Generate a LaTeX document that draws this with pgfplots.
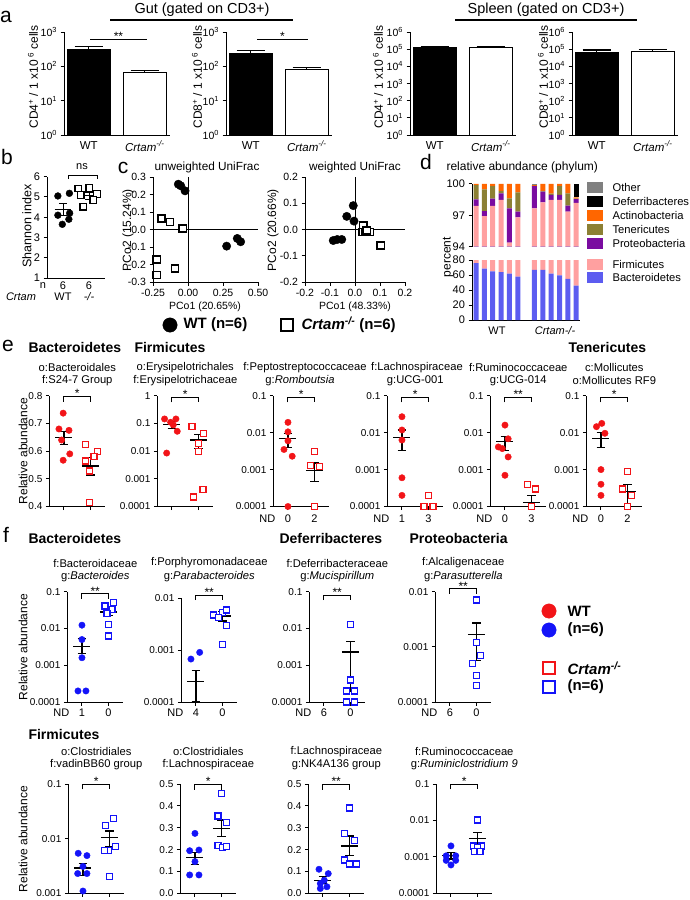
\documentclass[border=0pt]{standalone}
\usepackage{pgfplots}
\pgfplotsset{compat=1.18}
\usepackage{pgfplotstable}
\usepackage{fontspec}
\setmainfont{Liberation Sans}

\definecolor{wtred}{RGB}{242,20,24}
\definecolor{koblue}{RGB}{20,20,248}
\definecolor{cBac}{RGB}{92,92,240}
\definecolor{cFir}{RGB}{255,160,160}
\definecolor{cPro}{RGB}{122,12,160}
\definecolor{cTen}{RGB}{140,128,52}
\definecolor{cAct}{RGB}{255,102,0}
\definecolor{cDef}{RGB}{0,0,0}
\definecolor{cOth}{RGB}{128,128,128}

\newcommand{\tk}{\fontsize{10}{12}\selectfont}
\newcommand{\tkb}{\fontsize{11}{13}\selectfont}
\newcommand{\sbt}{\fontsize{11.2}{13.4}\selectfont}
\newcommand{\grp}{\bfseries\fontsize{14}{16.8}\selectfont}
\newcommand{\ylb}{\fontsize{12}{14.4}\selectfont}
\newcommand{\pl}{\fontsize{21}{25}\selectfont}
\newcommand{\ndf}{\fontsize{11}{13}\selectfont}
\newcommand{\stf}{\fontsize{12}{14}\selectfont}
\newcommand{\lgf}{\bfseries\fontsize{15}{18}\selectfont}

\pgfplotstableread{
x B F P T A D O
1 76 21.9 0.63 1.37 0.10 0 0
2 68.5 28.43 0.48 2.08 0.51 0 0
3 65 32.9 0.7 1.2 0.2 0 0
4 64 34.47 0.63 0.23 0.67 0 0
5 62 32.4 3.27 0.96 1.37 0 0
6 58 38.8 0.55 1.85 0.8 0 0
8 67 30.67 2.13 0.02 0.08 0 0.1
9 67 31.24 1.03 0.08 0.65 0 0
10 62 36.47 0.48 0.12 0.93 0 0
11 59.5 38.97 0.48 0.85 0.2 0 0
12 55 42.35 0.57 1.18 0.9 0 0
13 46 52.2 0.35 0.05 0.12 1.28 0
}\phyla

\pgfplotsset{
 sBase/.style={scale only axis, clip=false, anchor=south west,
   axis x line*=bottom, axis y line*=left, axis line style={line width=1pt,-},
   tick align=outside, major tick length=3.5pt,
   tick style={black, line width=1pt},
   xminorticks=false, yminorticks=false,
   tick label style={font=\tk}},
 sDot/.style={sBase, width=55.6pt, xmin=0.45, xmax=2.55, xtick={1,2}, xticklabels={}},
 sL3/.style={ymin=0.0001, ymax=0.1, ytick={0.0001,0.001,0.01,0.1}, yticklabels={0.0001,0.001,0.01,0.1}},
 sL2/.style={ymin=0.0001, ymax=0.01, ytick={0.0001,0.001,0.01}, yticklabels={0.0001,0.001,0.01}},
 sLin/.style={ymin=0, ymax=0.5, ytick={0,0.1,0.2,0.3,0.4,0.5}, yticklabels={0.0,0.1,0.2,0.3,0.4,0.5}},
 sWt/.style={only marks, mark=*, mark size=3.2pt, mark options={draw=#1, fill=#1}, forget plot},
 sKo/.style={only marks, mark=square*, mark size=3pt, mark options={draw=#1, fill=white, line width=1.25pt}, forget plot},
 sLine/.style={black, line width=1.2pt, mark=none, forget plot},
 sBarA/.style={sBase, width=106pt, height=103pt, xmin=0.56, xmax=2.45, ymin=1, xtick=\empty,
   tick label style={font=\fontsize{10.5}{12}\selectfont}},
 sBarD/.style={sBase, width=108pt, xmin=0.52, xmax=13.45, xtick=\empty, bar width=5pt,
   clip=true, tick label style={font=\tkb}},
}

\newcommand{\mA}[3]{%
 \addplot[sLine] coordinates {(0.68,#1) (1.32,#1)};
 \addplot[sLine] coordinates {(1,#2) (1,#3)};
 \addplot[sLine] coordinates {(0.84,#2) (1.16,#2)};
 \addplot[sLine] coordinates {(0.84,#3) (1.16,#3)};}
\newcommand{\mB}[3]{%
 \addplot[sLine] coordinates {(1.68,#1) (2.32,#1)};
 \addplot[sLine] coordinates {(2,#2) (2,#3)};
 \addplot[sLine] coordinates {(1.84,#2) (2.16,#2)};
 \addplot[sLine] coordinates {(1.84,#3) (2.16,#3)};}
\newcommand{\brk}[2]{%
 \draw[line width=1pt] ([yshift=-5pt]axis cs:1,#1) -- (axis cs:1,#1) -- (axis cs:2,#1) -- ([yshift=-5pt]axis cs:2,#1);
 \node[font=\stf, anchor=south, inner sep=0pt, yshift=-1.5pt] at (axis cs:1.5,#1) {#2};}

\begin{document}
\begin{tikzpicture}
\useasboundingbox (0pt,0pt) rectangle (689pt,-900pt);

% ================= panel a =================
\begin{axis}[sBarA, ymode=log, at={(64pt,-135pt)}, ymax=1000, ytick={1,10,100,1000},
  yticklabels={10\textsuperscript{0},10\textsuperscript{1},10\textsuperscript{2},10\textsuperscript{3}}]
\addplot[ybar, bar width=43pt, bar shift=0pt, fill=black, draw=black, forget plot] coordinates {(1,316)};
\addplot[ybar, bar width=43pt, bar shift=0pt, fill=white, draw=black, line width=1pt, forget plot] coordinates {(2,68)};
\addplot[sLine] coordinates {(1,316) (1,370)};
\addplot[sLine] coordinates {(0.75,370) (1.25,370)};
\addplot[sLine] coordinates {(2,68) (2,75)};
\addplot[sLine] coordinates {(1.75,75) (2.25,75)};
\end{axis}
\begin{axis}[sBarA, ymode=log, at={(226pt,-135pt)}, ymax=1000, ytick={1,10,100,1000},
  yticklabels={10\textsuperscript{0},10\textsuperscript{1},10\textsuperscript{2},10\textsuperscript{3}}]
\addplot[ybar, bar width=43pt, bar shift=0pt, fill=black, draw=black, forget plot] coordinates {(1,240)};
\addplot[ybar, bar width=43pt, bar shift=0pt, fill=white, draw=black, line width=1pt, forget plot] coordinates {(2,83)};
\addplot[sLine] coordinates {(1,240) (1,285)};
\addplot[sLine] coordinates {(0.75,285) (1.25,285)};
\addplot[sLine] coordinates {(2,83) (2,91)};
\addplot[sLine] coordinates {(1.75,91) (2.25,91)};
\end{axis}
\begin{axis}[sBarA, ymode=log, at={(410pt,-135pt)}, ymax=1000000, ytick={1,10,100,1000,10000,100000,1000000},
  yticklabels={10\textsuperscript{0},10\textsuperscript{1},10\textsuperscript{2},10\textsuperscript{3},10\textsuperscript{4},10\textsuperscript{5},10\textsuperscript{6}}]
\addplot[ybar, bar width=43pt, bar shift=0pt, fill=black, draw=black, forget plot] coordinates {(1,130000)};
\addplot[ybar, bar width=43pt, bar shift=0pt, fill=white, draw=black, line width=1pt, forget plot] coordinates {(2,125000)};
\addplot[sLine] coordinates {(1,130000) (1,150000)};
\addplot[sLine] coordinates {(0.75,150000) (1.25,150000)};
\addplot[sLine] coordinates {(2,125000) (2,140000)};
\addplot[sLine] coordinates {(1.75,140000) (2.25,140000)};
\end{axis}
\begin{axis}[sBarA, ymode=log, at={(572pt,-135pt)}, ymax=1000000, ytick={1,10,100,1000,10000,100000,1000000},
  yticklabels={10\textsuperscript{0},10\textsuperscript{1},10\textsuperscript{2},10\textsuperscript{3},10\textsuperscript{4},10\textsuperscript{5},10\textsuperscript{6}}]
\addplot[ybar, bar width=43pt, bar shift=0pt, fill=black, draw=black, forget plot] coordinates {(1,71000)};
\addplot[ybar, bar width=43pt, bar shift=0pt, fill=white, draw=black, line width=1pt, forget plot] coordinates {(2,71000)};
\addplot[sLine] coordinates {(1,71000) (1,89000)};
\addplot[sLine] coordinates {(0.75,89000) (1.25,89000)};
\addplot[sLine] coordinates {(2,71000) (2,95000)};
\addplot[sLine] coordinates {(1.75,95000) (2.25,95000)};
\end{axis}

% ================= panel b =================
\begin{axis}[sBase, at={(47pt,-278pt)}, width=58pt, height=101.3pt, xmin=0.385, xmax=2.6,
  ymin=1, ymax=6, ytick={1,2,3,4,5,6}, yticklabels={1,2,3,4,5,6}, xtick=\empty, tick label style={font=\tkb}]
\addplot[only marks, mark=*, mark size=3.4pt, black, forget plot] coordinates {(0.8,5.05) (1.24,5.18) (0.8,4.1) (1.25,4.2) (0.97,3.65) (1.22,3.9)};
\addplot[only marks, mark=square*, mark size=3.3pt, mark options={draw=black, fill=white, line width=1.3pt}, forget plot] coordinates {(1.58,5.42) (2.0,5.45) (1.67,5.1) (2.3,5.15) (2.15,4.85) (1.77,4.52)};
\mA{4.38}{4.1}{4.69}
\mB{5.07}{4.88}{5.25}
\end{axis}

% ================= panel c =================
\begin{axis}[sBase, at={(153pt,-282pt)}, width=105pt, height=105pt, xmin=-0.25, xmax=0.5, ymin=-0.3, ymax=0.3,
  xtick={-0.25,0,0.25,0.5}, xticklabels={-0.25,0.00,0.25,0.50},
  ytick={-0.3,-0.2,-0.1,0,0.1,0.2,0.3}, yticklabels={-0.3,-0.2,-0.1,0.0,0.1,0.2,0.3},
  tick label style={font=\fontsize{10.5}{12}\selectfont}]
\addplot[black, line width=1pt, forget plot] coordinates {(0,-0.3) (0,0.3)};
\addplot[black, line width=1pt, forget plot] coordinates {(-0.25,0) (0.5,0)};
\addplot[only marks, mark=*, mark size=4.2pt, black, forget plot] coordinates {(-0.069,0.259) (-0.052,0.25) (-0.021,0.221) (0.276,-0.095) (0.352,-0.051) (0.376,-0.07)};
\addplot[only marks, mark=square*, mark size=3.6pt, mark options={draw=black, fill=white, line width=1.4pt}, forget plot] coordinates {(-0.19,0.063) (-0.129,0.044) (-0.038,0.006) (-0.224,-0.171) (-0.224,-0.261) (-0.093,-0.223)};
\end{axis}
\begin{axis}[sBase, at={(305pt,-282pt)}, width=100pt, height=105pt, xmin=-0.2, xmax=0.2, ymin=-0.2, ymax=0.2,
  xtick={-0.2,-0.1,0,0.1,0.2}, xticklabels={-0.2,-0.1,0.0,0.1,0.2},
  ytick={-0.2,-0.1,0,0.1,0.2}, yticklabels={-0.2,-0.1,0.0,0.1,0.2},
  tick label style={font=\fontsize{10.5}{12}\selectfont}]
\addplot[black, line width=1pt, forget plot] coordinates {(0,-0.2) (0,0.2)};
\addplot[black, line width=1pt, forget plot] coordinates {(-0.2,0) (0.2,0)};
\addplot[only marks, mark=*, mark size=4.2pt, black, forget plot] coordinates {(-0.007,0.091) (-0.033,0.05) (-0.004,0.032) (-0.087,-0.042) (-0.071,-0.038) (-0.053,-0.038)};
\addplot[only marks, mark=square*, mark size=3.6pt, mark options={draw=black, fill=white, line width=1.4pt}, forget plot] coordinates {(0.033,0.015) (0.03,-0.01) (0.04,-0.01) (0.06,-0.01) (0.047,-0.004) (0.103,-0.061)};
\end{axis}

% ================= panel d =================
\begin{axis}[sBarD, ybar stacked, at={(472pt,-246.7pt)}, height=62.7pt, ymin=94, ymax=100, ytick={94,97,100}, yticklabels={94,97,100}, axis x line=none]
\addplot[fill=cBac, draw=none] table[x=x, y=B] {\phyla};
\addplot[fill=cFir, draw=none] table[x=x, y=F] {\phyla};
\addplot[fill=cPro, draw=none] table[x=x, y=P] {\phyla};
\addplot[fill=cTen, draw=none] table[x=x, y=T] {\phyla};
\addplot[fill=cAct, draw=none] table[x=x, y=A] {\phyla};
\addplot[fill=cDef, draw=none] table[x=x, y=D] {\phyla};
\addplot[fill=cOth, draw=none] table[x=x, y=O] {\phyla};
\end{axis}
\begin{axis}[sBarD, ybar stacked, at={(472pt,-320pt)}, height=60pt, ymin=0, ymax=80, ytick={0,20,40,60,80}, yticklabels={0,20,40,60,80}]
\addplot[fill=cBac, draw=none] table[x=x, y=B] {\phyla};
\addplot[fill=cFir, draw=none] table[x=x, y=F] {\phyla};
\end{axis}

% ================= panel e =================
\begin{axis}[sDot, at={(49.4pt,-506.5pt)}, height=110.8pt, ymin=0.4, ymax=0.8,
  ytick={0.4,0.5,0.6,0.7,0.8}, yticklabels={0.4,0.5,0.6,0.7,0.8}]
\addplot[sWt=wtred] coordinates {(0.97,0.737) (0.81,0.680) (1.19,0.675) (0.91,0.640) (1.22,0.590) (0.97,0.567)};
\addplot[sKo=wtred] coordinates {(1.81,0.623) (2.28,0.599) (2.13,0.581) (1.81,0.564) (1.97,0.528) (1.97,0.414)};
\mA{0.648}{0.623}{0.671}
\mB{0.546}{0.514}{0.578}
\brk{0.797}{*}
\end{axis}
\begin{axis}[sDot, ymode=log, at={(157.4pt,-506.5pt)}, height=110.8pt, ymin=0.0001, ymax=1,
  ytick={0.0001,0.001,0.01,0.1,1}, yticklabels={0.0001,0.001,0.01,0.1,1}]
\addplot[sWt=wtred] coordinates {(0.72,0.145) (1.15,0.145) (0.95,0.11) (1.05,0.088) (1.2,0.052) (0.8,0.0085)};
\addplot[sKo=wtred] coordinates {(1.76,0.079) (2.2,0.043) (2.0,0.019) (2.0,0.0096) (1.8,0.00022) (2.17,0.00042)};
\mA{0.09}{0.065}{0.118}
\mB{0.025}{0.0126}{0.04}
\brk{0.87}{*}
\end{axis}
\begin{axis}[sDot, ymode=log, sL3, at={(273.4pt,-506.5pt)}, height=110.8pt]
\addplot[sWt=wtred] coordinates {(1,0.019) (1,0.0105) (1,0.006) (0.85,0.0035) (1.16,0.0023) (1,0.0001)};
\addplot[sKo=wtred] coordinates {(2,0.0031) (1.85,0.0013) (2.2,0.0012) (2,0.0001)};
\mA{0.0068}{0.0039}{0.0097}
\mB{0.00095}{0.00048}{0.0015}
\brk{0.09}{*}
\end{axis}
\begin{axis}[sDot, ymode=log, sL3, at={(387.4pt,-506.5pt)}, height=110.8pt]
\addplot[sWt=wtred] coordinates {(1,0.027) (1,0.0118) (1,0.0063) (1,0.0006) (1,0.0002)};
\addplot[sKo=wtred] coordinates {(2,0.0002) (1.83,0.0001) (2.17,0.0001)};
\mA{0.0074}{0.0033}{0.0118}
\brk{0.09}{*}
\end{axis}
\begin{axis}[sDot, ymode=log, sL3, at={(490.4pt,-506.5pt)}, height=110.8pt]
\addplot[sWt=wtred] coordinates {(1,0.016) (1.12,0.0068) (0.75,0.0041) (0.9,0.0037) (1.12,0.0022) (1,0.0007)};
\addplot[sKo=wtred] coordinates {(1.85,0.0004) (2.15,0.0003) (2,0.0001)};
\mA{0.0057}{0.0033}{0.0078}
\mB{0.00013}{0.0001}{0.0002}
\brk{0.09}{**}
\end{axis}
\begin{axis}[sDot, ymode=log, sL3, at={(586.4pt,-506.5pt)}, height=110.8pt]
\addplot[sWt=wtred] coordinates {(0.83,0.0145) (1.03,0.0178) (1.15,0.0096) (1,0.001) (1,0.0004) (1,0.0002)};
\addplot[sKo=wtred] coordinates {(2,0.0009) (1.82,0.0003) (2.15,0.0002) (2,0.0001)};
\mA{0.007}{0.004}{0.0102}
\mB{0.00025}{0.0001}{0.0004}
\brk{0.09}{*}
\end{axis}

% ================= panel f (top) =================
\begin{axis}[sDot, ymode=log, sL3, at={(67.4pt,-702pt)}, height=110.3pt]
\addplot[sWt=koblue] coordinates {(1,0.0123) (1,0.005) (1,0.0016) (0.85,0.0002) (1.15,0.0002)};
\addplot[sKo=koblue] coordinates {(1.87,0.041) (2.19,0.051) (2.13,0.033) (1.95,0.025) (2,0.0128) (2,0.0062)};
\mA{0.0032}{0.0021}{0.0053}
\mB{0.028}{0.023}{0.035}
\brk{0.087}{**}
\end{axis}
\begin{axis}[sDot, ymode=log, sL2, at={(181.4pt,-702pt)}, height=104pt]
\addplot[sWt=koblue] coordinates {(0.81,0.00067) (1.14,0.0009)};
\addplot[sKo=koblue] coordinates {(2,0.0052) (1.66,0.0047) (2.16,0.0059) (1.85,0.0042) (2.16,0.003) (2,0.00126)};
\mA{0.00025}{0.0001}{0.00041}
\mB{0.0045}{0.0036}{0.0055}
\brk{0.0114}{**}
\end{axis}
\begin{axis}[sDot, ymode=log, sL3, at={(309.4pt,-702pt)}, height=110.3pt]
\addplot[sKo=koblue] coordinates {(2,0.0129) (2,0.0004) (1.85,0.0002) (2.15,0.0002) (1.85,0.0001) (2.15,0.0001)};
\mB{0.0023}{0.0002}{0.0044}
\brk{0.081}{**}
\end{axis}
\begin{axis}[sDot, ymode=log, sL2, at={(435.4pt,-702pt)}, height=110.3pt]
\addplot[sKo=koblue] coordinates {(2,0.0071) (2,0.0012) (2.15,0.0007) (1.85,0.0005) (2,0.0003) (2,0.0002)};
\mB{0.00167}{0.00057}{0.0027}
\brk{0.0112}{**}
\end{axis}

% ================= panel f (bottom) =================
\begin{axis}[sDot, ymode=log, at={(68.4pt,-893.3pt)}, height=109.3pt, ymin=0.001, ymax=0.1,
  ytick={0.001,0.01,0.1}, yticklabels={0.001,0.01,0.1}]
\addplot[sWt=koblue] coordinates {(0.82,0.0054) (1.15,0.0049) (1,0.0031) (0.8,0.0023) (1.15,0.0023) (1,0.0011)};
\addplot[sKo=koblue] coordinates {(2.16,0.0234) (1.85,0.0173) (2.23,0.0071) (1.97,0.006) (1.81,0.006) (2,0.002)};
\mA{0.0029}{0.0021}{0.0035}
\mB{0.0104}{0.0071}{0.0138}
\brk{0.098}{*}
\end{axis}
\begin{axis}[sDot, sLin, at={(180.4pt,-893.3pt)}, height=109.3pt]
\addplot[sWt=koblue] coordinates {(1,0.274) (0.8,0.195) (1.15,0.198) (1,0.145) (0.8,0.084) (1.15,0.084)};
\addplot[sKo=koblue] coordinates {(2,0.457) (1.87,0.354) (2.19,0.323) (1.87,0.22) (2.03,0.21) (2.19,0.215)};
\mA{0.163}{0.13}{0.188}
\mB{0.297}{0.259}{0.335}
\brk{0.497}{*}
\end{axis}
\begin{axis}[sDot, sLin, at={(308.4pt,-893.3pt)}, height=109.3pt]
\addplot[sWt=koblue] coordinates {(0.85,0.11) (1.2,0.09) (1.05,0.06) (0.9,0.045) (1.15,0.03) (0.9,0.022)};
\addplot[sKo=koblue] coordinates {(2,0.39) (1.81,0.274) (2.19,0.24) (1.81,0.152) (2,0.134) (2.26,0.134)};
\mA{0.06}{0.047}{0.076}
\mB{0.216}{0.174}{0.262}
\brk{0.497}{**}
\end{axis}
\begin{axis}[sDot, ymode=log, sL3, at={(436.4pt,-893.3pt)}, height=109.3pt]
\addplot[sWt=koblue] coordinates {(1,0.002) (0.82,0.00107) (1.18,0.00107) (0.82,0.0008) (1.18,0.0008) (1,0.0006)};
\addplot[sKo=koblue] coordinates {(2,0.0103) (1.85,0.002) (2.15,0.002) (2,0.0018) (1.9,0.0014) (2.1,0.0014)};
\mA{0.00107}{0.00087}{0.0013}
\mB{0.0032}{0.0019}{0.0046}
\brk{0.098}{*}
\end{axis}

% ================= overlay (pixel coordinates) =================
\begin{axis}[at={(0pt,-900pt)}, anchor=south west, scale only axis, width=689pt, height=900pt,
  xmin=0, xmax=689, ymin=0, ymax=900, y dir=reverse, hide axis, clip=false]
% panel letters
\node[font=\pl] at (6,17) {a};
\node[font=\pl] at (7,157) {b};
\node[font=\pl] at (123,168) {c};
\node[font=\pl] at (426,162) {d};
\node[font=\pl] at (8,346) {e};
\node[font=\pl] at (6,535) {f};
% panel a
\node[font=\fontsize{14.5}{17}\selectfont] at (202,10) {Gut (gated on CD3+)};
\draw[line width=1.2pt] (110,20) -- (293,20);
\node[font=\fontsize{14.5}{17}\selectfont] at (546,10) {Spleen (gated on CD3+)};
\draw[line width=1.2pt] (455,20) -- (637,20);
\node[font=\fontsize{12}{14}\selectfont, rotate=90] at (33,77) {CD4\textsuperscript{+} / 1 x10\textsuperscript{ 6} cells};
\node[font=\fontsize{12}{14}\selectfont, rotate=90] at (197,77) {CD8\textsuperscript{+} / 1 x10\textsuperscript{ 6} cells};
\node[font=\fontsize{12}{14}\selectfont, rotate=90] at (378,77) {CD4\textsuperscript{+} / 1 x10\textsuperscript{ 6} cells};
\node[font=\fontsize{12}{14}\selectfont, rotate=90] at (543,77) {CD8\textsuperscript{+} / 1 x10\textsuperscript{ 6} cells};
\node[font=\fontsize{11.5}{13}\selectfont] at (88.7,146) {WT};
\node[font=\fontsize{11.5}{13}\selectfont] at (144.8,146) {\textit{Crtam}\textsuperscript{\textit{-/-}}};
\node[font=\fontsize{11.5}{13}\selectfont] at (250.7,146) {WT};
\node[font=\fontsize{11.5}{13}\selectfont] at (306.8,146) {\textit{Crtam}\textsuperscript{\textit{-/-}}};
\node[font=\fontsize{11.5}{13}\selectfont] at (434.7,146) {WT};
\node[font=\fontsize{11.5}{13}\selectfont] at (490.8,146) {\textit{Crtam}\textsuperscript{\textit{-/-}}};
\node[font=\fontsize{11.5}{13}\selectfont] at (596.7,146) {WT};
\node[font=\fontsize{11.5}{13}\selectfont] at (652.8,146) {\textit{Crtam}\textsuperscript{\textit{-/-}}};
\draw[line width=1pt] (90,39) -- (147,39);
\node[font=\stf, anchor=south, inner sep=0pt] at (118.5,40.5) {**};
\draw[line width=1pt] (257,39) -- (308,39);
\node[font=\stf, anchor=south, inner sep=0pt] at (282.5,40.5) {*};
% panel b
\draw[line width=1pt] (68,179) -- (68,175) -- (97,175) -- (97,179);
\node[font=\tkb] at (82,167) {ns};
\node[font=\tkb] at (43,286) {n};
\node[font=\tkb] at (63,286) {6};
\node[font=\tkb] at (89,286) {6};
\node[font=\tkb] at (21,297) {\textit{Crtam}};
\node[font=\tkb] at (63,297) {WT};
\node[font=\tkb] at (89,297) {\textit{-/-}};
\node[font=\fontsize{12.5}{15}\selectfont, rotate=90] at (27,226) {Shannon index};
% panel c
\node[font=\fontsize{11.8}{14}\selectfont] at (207,167) {unweighted UniFrac};
\node[font=\fontsize{11.8}{14}\selectfont] at (355,167) {weighted UniFrac};
\node[font=\fontsize{10.5}{12.5}\selectfont] at (205,307) {PCo1 (20.65\%)};
\node[font=\fontsize{10.5}{12.5}\selectfont] at (355,307) {PCo1 (48.33\%)};
\node[font=\fontsize{12}{14}\selectfont, rotate=90] at (128,230) {PCo2 (15.24\%)};
\node[font=\fontsize{12}{14}\selectfont, rotate=90] at (273,230) {PCo2 (20.66\%)};
% legend row
\addplot[only marks, mark=*, mark size=7.2pt, black] coordinates {(170,325)};
\node[font=\lgf, anchor=west] at (180,325) {WT (n=6)};
\addplot[only marks, mark=square*, mark size=6.3pt, mark options={draw=black, fill=white, line width=2pt}] coordinates {(287,325)};
\node[font=\lgf, anchor=west] at (298,325) {\textit{Crtam}\textsuperscript{\textit{-/-}} (n=6)};
% panel d
\node[font=\fontsize{12}{14}\selectfont, anchor=west] at (443,167) {relative abundance (phylum)};
\node[font=\fontsize{12}{14}\selectfont, rotate=90] at (448,257) {percent};
\node[font=\tkb] at (497,331) {WT};
\node[font=\tkb] at (555,331) {\textit{Crtam-/-}};
\addplot[only marks, mark=square*, mark size=5pt, mark options={xscale=1.5, draw=cOth, fill=cOth}] coordinates {(594.5,187)};
\addplot[only marks, mark=square*, mark size=5pt, mark options={xscale=1.5, draw=cDef, fill=cDef}] coordinates {(594.5,201)};
\addplot[only marks, mark=square*, mark size=5pt, mark options={xscale=1.5, draw=cAct, fill=cAct}] coordinates {(594.5,215)};
\addplot[only marks, mark=square*, mark size=5pt, mark options={xscale=1.5, draw=cTen, fill=cTen}] coordinates {(594.5,229)};
\addplot[only marks, mark=square*, mark size=5pt, mark options={xscale=1.5, draw=cPro, fill=cPro}] coordinates {(594.5,243)};
\addplot[only marks, mark=square*, mark size=5pt, mark options={xscale=1.5, draw=cFir, fill=cFir}] coordinates {(594.5,264)};
\addplot[only marks, mark=square*, mark size=5pt, mark options={xscale=1.5, draw=cBac, fill=cBac}] coordinates {(594.5,277)};
\node[font=\fontsize{11.2}{13}\selectfont, anchor=west] at (609,187) {Other};
\node[font=\fontsize{11.2}{13}\selectfont, anchor=west] at (609,201) {Deferribacteres};
\node[font=\fontsize{11.2}{13}\selectfont, anchor=west] at (609,215) {Actinobacteria};
\node[font=\fontsize{11.2}{13}\selectfont, anchor=west] at (609,229) {Tenericutes};
\node[font=\fontsize{11.2}{13}\selectfont, anchor=west] at (609,243) {Proteobacteria};
\node[font=\fontsize{11.2}{13}\selectfont, anchor=west] at (609,264) {Firmicutes};
\node[font=\fontsize{11.2}{13}\selectfont, anchor=west] at (609,277) {Bacteroidetes};
% panel e texts
\node[font=\grp, anchor=west] at (25,347) {Bacteroidetes};
\node[font=\grp, anchor=west] at (131,347) {Firmicutes};
\node[font=\grp, anchor=west] at (565,347) {Tenericutes};
\node[font=\sbt] at (77.3,367.7) {o:Bacteroidales};
\node[font=\sbt] at (77.3,380.5) {f:S24-7 Group};
\node[font=\sbt] at (185.3,367.7) {o:Erysipelotrichales};
\node[font=\sbt] at (185.3,380.5) {f:Erysipelotrichaceae};
\node[font=\sbt] at (305,367.7) {f:Peptostreptococcaceae};
\node[font=\sbt] at (300,380.5) {g:\textit{Romboutsia}};
\node[font=\sbt] at (417,367.7) {f:Lachnospiraceae};
\node[font=\sbt] at (415.3,380.5) {g:UCG-001};
\node[font=\sbt] at (518.3,367.7) {f:Ruminococcaceae};
\node[font=\sbt] at (518.3,380.5) {g:UCG-014};
\node[font=\sbt] at (614.3,367.7) {c:Mollicutes};
\node[font=\sbt] at (614.3,380.5) {o:Mollicutes RF9};
\node[font=\ylb, rotate=90] at (23,451) {Relative abundance};
\node[font=\ndf] at (267.4,519) {ND}; \node[font=\ndf] at (288,519) {0}; \node[font=\ndf] at (314.5,519) {2};
\node[font=\ndf] at (381.4,519) {ND}; \node[font=\ndf] at (402,519) {1}; \node[font=\ndf] at (428.5,519) {3};
\node[font=\ndf] at (484.4,519) {ND}; \node[font=\ndf] at (505,519) {0}; \node[font=\ndf] at (531.5,519) {3};
\node[font=\ndf] at (580.4,519) {ND}; \node[font=\ndf] at (601,519) {0}; \node[font=\ndf] at (627.5,519) {2};
% panel f texts
\node[font=\grp, anchor=west] at (25,538) {Bacteroidetes};
\node[font=\grp, anchor=west] at (276,538) {Deferribacteres};
\node[font=\grp, anchor=west] at (406,538) {Proteobacteria};
\node[font=\grp, anchor=west] at (25,734) {Firmicutes};
\node[font=\sbt] at (95.3,563) {f:Bacteroidaceae};
\node[font=\sbt] at (95.3,577) {g:\textit{Bacteroides}};
\node[font=\sbt] at (209.3,563) {f:Porphyromonadaceae};
\node[font=\sbt] at (209.3,577) {g:\textit{Parabacteroides}};
\node[font=\sbt] at (337.3,563) {f:Deferribacteraceae};
\node[font=\sbt] at (337.3,577) {g:\textit{Mucispirillum}};
\node[font=\sbt] at (463.3,563) {f:Alcaligenaceae};
\node[font=\sbt] at (463.3,577) {g:\textit{Parasutterella}};
\node[font=\sbt] at (96.3,751.7) {o:Clostridiales};
\node[font=\sbt] at (96.3,765) {f:vadinBB60 group};
\node[font=\sbt] at (208.3,751.7) {o:Clostridiales};
\node[font=\sbt] at (208.3,765) {f:Lachnospiraceae};
\node[font=\sbt] at (336.3,751.7) {f:Lachnospiraceae};
\node[font=\sbt] at (336.3,765) {g:NK4A136 group};
\node[font=\sbt] at (464.3,751.7) {f:Ruminococcaceae};
\node[font=\sbt] at (464.3,765) {g:\textit{Ruminiclostridium 9}};
\node[font=\ylb, rotate=90] at (23,647) {Relative abundance};
\node[font=\ylb, rotate=90] at (23,839) {Relative abundance};
\node[font=\ndf] at (61.4,713) {ND}; \node[font=\ndf] at (82,713) {1}; \node[font=\ndf] at (108.5,713) {0};
\node[font=\ndf] at (175.4,713) {ND}; \node[font=\ndf] at (196,713) {4}; \node[font=\ndf] at (222.5,713) {0};
\node[font=\ndf] at (303.4,713) {ND}; \node[font=\ndf] at (324,713) {6}; \node[font=\ndf] at (350.5,713) {0};
\node[font=\ndf] at (429.4,713) {ND}; \node[font=\ndf] at (450,713) {6}; \node[font=\ndf] at (476.5,713) {0};
% panel f legend
\addplot[only marks, mark=*, mark size=7.2pt, mark options={draw=wtred, fill=wtred}] coordinates {(549,611)};
\addplot[only marks, mark=*, mark size=7.2pt, mark options={draw=koblue, fill=koblue}] coordinates {(549,630)};
\addplot[only marks, mark=square*, mark size=6.3pt, mark options={draw=wtred, fill=white, line width=2pt}] coordinates {(549,668)};
\addplot[only marks, mark=square*, mark size=6.3pt, mark options={draw=koblue, fill=white, line width=2pt}] coordinates {(549,687)};
\node[font=\lgf, anchor=west] at (564,611) {WT};
\node[font=\lgf, anchor=west] at (564,630) {(n=6)};
\node[font=\lgf, anchor=west] at (564,668) {\textit{Crtam}\textsuperscript{\textit{-/-}}};
\node[font=\lgf, anchor=west] at (564,687) {(n=6)};
\end{axis}
\end{tikzpicture}
\end{document}
